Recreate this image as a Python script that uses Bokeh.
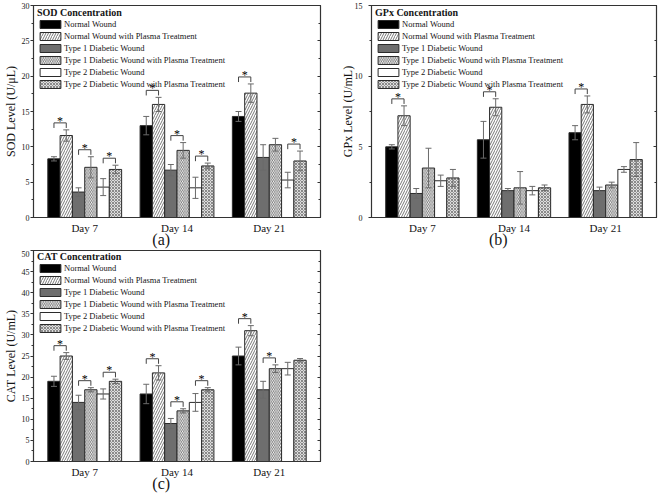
from bokeh.plotting import figure
from bokeh.models import (Range1d, LinearAxis, SingleIntervalTicker, FixedTicker,
                          ColumnDataSource, Whisker, TeeHead, Legend, LegendItem)
from bokeh.layouts import column, row
from bokeh.embed import file_html
from bokeh.resources import INLINE
from bokeh.core.properties import value

# ---------------- data ----------------
days = ["Day 7", "Day 14", "Day 21"]
series = ["Normal Wound",
          "Normal Wound with Plasma Treatment",
          "Type 1 Diabetic Wound",
          "Type 1 Diabetic Wound with Plasma Treatment",
          "Type 2 Diabetic Wound",
          "Type 2 Diabetic Wound with Plasma Treatment"]

# rows = series (in the order above), columns = days
sod_mean = [[8.3, 13.0, 14.3],
            [11.6, 16.0, 17.6],
            [3.6, 6.7, 8.5],
            [7.1, 9.5, 10.3],
            [4.3, 4.2, 5.3],
            [6.8, 7.3, 8.0]]
sod_err = [[0.3, 1.3, 0.7],
           [0.8, 1.0, 1.3],
           [0.6, 0.8, 1.8],
           [1.5, 1.1, 0.9],
           [1.2, 1.5, 1.1],
           [0.6, 0.4, 1.4]]

gpx_mean = [[5.0, 5.5, 6.0],
            [7.2, 7.8, 8.0],
            [1.7, 1.9, 1.9],
            [3.5, 2.1, 2.3],
            [2.6, 1.9, 3.4],
            [2.8, 2.1, 4.1]]
gpx_err = [[0.15, 1.3, 0.5],
           [0.7, 0.6, 0.6],
           [0.35, 0.15, 0.25],
           [1.4, 1.15, 0.2],
           [0.4, 0.3, 0.2],
           [0.6, 0.2, 1.2]]

cat_mean = [[19, 16, 25],
            [25, 21, 31],
            [14, 9, 17],
            [17, 12, 22],
            [16, 14, 22],
            [19, 17, 24]]
cat_err = [[1.2, 2.3, 2.1],
           [0.8, 1.7, 1.2],
           [1.7, 1.2, 2.0],
           [0.5, 0.5, 0.9],
           [1.2, 2.1, 1.5],
           [0.5, 0.5, 0.4]]

# significance brackets: (day index, series a, series b)
sod_sig = [(0, 0, 1), (0, 2, 3), (0, 4, 5), (1, 0, 1), (1, 2, 3), (1, 4, 5), (2, 0, 1), (2, 4, 5)]
gpx_sig = [(0, 0, 1), (1, 0, 1), (2, 0, 1)]
cat_sig = [(0, 0, 1), (0, 2, 3), (0, 4, 5), (1, 0, 1), (1, 2, 3), (1, 4, 5), (2, 0, 1), (2, 2, 3)]

# ---------------- style ----------------
FONT = "Liberation Serif"
TXT = "#151515"
EDGE = "#2b2b2b"
BAR_W = 0.8 / 6

bar_styles = [
    dict(fill_color="#000000"),
    dict(fill_color="#ffffff", hatch_pattern="/", hatch_scale=5, hatch_color="#555555", hatch_weight=0.8),
    dict(fill_color="#6e6e6e"),
    dict(fill_color="#ffffff", hatch_pattern="\\", hatch_scale=3.5, hatch_color="#555555", hatch_weight=0.8),
    dict(fill_color="#ffffff"),
    dict(fill_color="#dedede", hatch_pattern="x", hatch_scale=3, hatch_color="#666666", hatch_weight=0.7),
]


def build(title, ylabel, ymax, mean, err, sig, letter, width, height,
          b_left, b_right, b_top, b_bottom, tick_standoff, label_standoff):
    p = figure(width=width, height=height,
               x_range=Range1d(-0.555, 2.555), y_range=Range1d(0, ymax),
               output_backend="svg", toolbar_location=None,
               min_border_left=b_left, min_border_right=b_right,
               min_border_top=b_top, min_border_bottom=b_bottom)
    p.xgrid.visible = False
    p.ygrid.visible = False
    p.outline_line_color = "#333333"
    p.outline_line_width = 1.2
    p.background_fill_color = "white"
    p.border_fill_color = "white"

    renderers = []
    for j in range(6):
        xs = [i + (j - 2.5) * BAR_W for i in range(len(days))]
        src = ColumnDataSource(dict(
            x=xs, top=mean[j],
            upper=[m + e for m, e in zip(mean[j], err[j])],
            lower=[m - e for m, e in zip(mean[j], err[j])]))
        r = p.vbar(x="x", top="top", bottom=0, width=BAR_W, source=src,
                   line_color=EDGE, line_width=1, **bar_styles[j])
        renderers.append(r)
        wh = Whisker(source=src, base="x", upper="upper", lower="lower",
                     line_color="#6a6a6a", line_width=1, level="glyph",
                     upper_head=TeeHead(size=6, line_color="#6a6a6a", line_width=1),
                     lower_head=TeeHead(size=6, line_color="#6a6a6a", line_width=1))
        p.add_layout(wh)

    # significance brackets
    bxs, bys, tx, ty = [], [], [], []
    for d, a, b in sig:
        xa = d + (a - 2.5) * BAR_W
        xb = d + (b - 2.5) * BAR_W
        top = max(mean[a][d] + err[a][d], mean[b][d] + err[b][d]) + ymax * 0.033
        drop = ymax * 0.024
        bxs.append([xa, xa, xb, xb])
        bys.append([top - drop, top, top, top - drop])
        tx.append((xa + xb) / 2)
        ty.append(top)
    p.multi_line(bxs, bys, line_color="#444444", line_width=1)
    p.text(x=tx, y=ty, text=["*"] * len(tx), text_font=value(FONT), text_font_size="12px",
           text_align="center", text_baseline="alphabetic", y_offset=-2, text_color="black")

    # axes
    yax = p.yaxis[0]
    yax.ticker = SingleIntervalTicker(interval=5, num_minor_ticks=2)
    yax.axis_label = ylabel
    yax.axis_label_text_font = FONT
    yax.axis_label_text_font_size = "12px"
    yax.axis_label_text_font_style = "normal"
    yax.axis_label_text_color = TXT
    yax.axis_label_standoff = label_standoff
    yax.major_label_text_font = FONT
    yax.major_label_text_font_size = "8px"
    yax.major_label_text_color = TXT
    yax.major_label_standoff = tick_standoff
    yax.major_tick_in = 0
    yax.major_tick_out = 3
    yax.minor_tick_in = 0
    yax.minor_tick_out = 2
    yax.axis_line_color = "#333333"
    yax.major_tick_line_color = "#333333"
    yax.minor_tick_line_color = "#333333"

    xax = p.xaxis[0]
    xax.ticker = FixedTicker(ticks=list(range(len(days))))
    xax.major_label_overrides = {i: d for i, d in enumerate(days)}
    xax.major_label_text_font = FONT
    xax.major_label_text_font_size = "11px"
    xax.major_label_text_color = TXT
    xax.major_label_standoff = 4
    xax.major_tick_in = 0
    xax.major_tick_out = 0
    xax.major_tick_line_color = None
    xax.minor_tick_line_color = None
    xax.axis_line_color = "#333333"

    rax = LinearAxis(ticker=SingleIntervalTicker(interval=5, num_minor_ticks=2),
                     major_label_text_font_size="1px", major_label_text_color=None,
                     major_label_standoff=0,
                     major_tick_in=3, major_tick_out=0, minor_tick_in=2, minor_tick_out=0,
                     axis_line_color="#333333", major_tick_line_color="#333333",
                     minor_tick_line_color="#333333")
    p.add_layout(rax, "right")

    # panel letter "(a)" etc. as a second bottom axis with a single tick
    p.extra_x_ranges = {"letter": Range1d(0, 200)}
    lax = LinearAxis(x_range_name="letter", ticker=FixedTicker(ticks=[89]),
                     major_label_overrides={89: letter},
                     major_label_text_font=FONT, major_label_text_font_size="16px",
                     major_label_text_color=TXT, major_label_standoff=-6,
                     major_tick_in=0, major_tick_out=0, minor_tick_in=0, minor_tick_out=0,
                     axis_line_color=None, major_tick_line_color=None,
                     minor_tick_line_color=None)
    p.add_layout(lax, "below")

    # legend
    items = [LegendItem(label=series[j], renderers=[renderers[j]]) for j in range(6)]
    legend = Legend(items=items, location=(4, 128), title=title,
                    title_text_font=FONT, title_text_font_style="bold",
                    title_text_font_size="10px", title_text_color=TXT, title_standoff=1,
                    label_text_font=FONT, label_text_font_size="8.5px", label_text_color=TXT,
                    glyph_width=26, glyph_height=10, label_height=10, label_standoff=1,
                    spacing=2, padding=0, margin=0,
                    background_fill_alpha=0, border_line_alpha=0)
    p.add_layout(legend)
    return p


pa = build("SOD Concentration", "SOD Level (U/\u03bcL)", 30, sod_mean, sod_err, sod_sig, "(a)",
           330, 250, 32, 10, 5, 33, 1, 1)
pb = build("GPx Concentration", "GPx Level (U/mL)", 15, gpx_mean, gpx_err, gpx_sig, "(b)",
           330, 250, 41, 4, 5, 33, 6, -3)
pc = build("CAT Concentration", "CAT Level (U/mL)", 50, cat_mean, cat_err, cat_sig, "(c)",
           330, 244, 32, 10, 0, 32, 1, 1)

top_row = row(pa, pb, width=660, height=250)
layout = column(top_row, pc, width=660, height=494)

open("out.html", "w").write(file_html(layout, INLINE))
